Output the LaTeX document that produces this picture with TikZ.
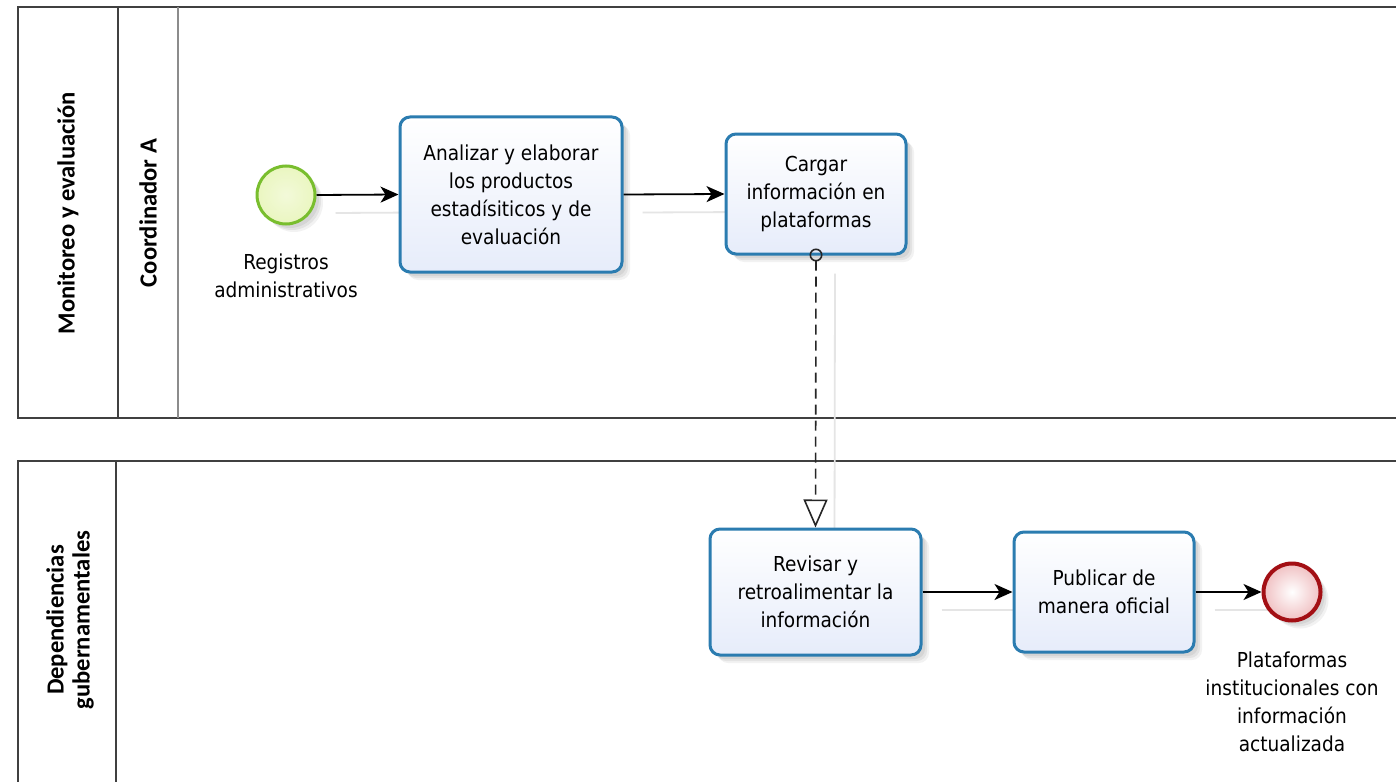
\documentclass[tikz,border=0pt]{standalone}
\usepackage{fontspec}
\setmainfont{DejaVu Sans Condensed}
\newfontfamily\lanefont{Carlito}
\usetikzlibrary{arrows.meta,shadows,positioning}

\definecolor{taskblue}{HTML}{2B7CB0}
\definecolor{taskfill}{HTML}{E6ECFA}
\definecolor{startgreen}{HTML}{79BE2E}
\definecolor{startfill}{HTML}{EAF6C0}
\definecolor{endred}{HTML}{A30F14}
\definecolor{endfill}{HTML}{F0C0C2}
\definecolor{poolline}{HTML}{404040}

\pgfdeclarelayer{background}
\pgfsetlayers{background,main}

\begin{document}
\begin{tikzpicture}[x=0.5pt,y=-0.5pt,
  pool/.style={draw=poolline, line width=1pt},
  divider/.style={draw=black!45, line width=1pt},
  lanetitle/.style={rotate=90, font=\lanefont\bfseries\fontsize{12.3}{13}\selectfont, align=center, inner sep=0pt},
  softshadow/.style={
    general shadow={shadow xshift=2pt, shadow yshift=-2pt, fill=black, opacity=0.06},
    general shadow={shadow xshift=3pt, shadow yshift=-3pt, fill=black, opacity=0.06},
    general shadow={shadow xshift=4pt, shadow yshift=-4pt, fill=black, opacity=0.05}},
  task/.style={draw=taskblue, line width=1.5pt, rounded corners=5pt,
    top color=white, bottom color=taskfill, align=center, inner sep=0pt,
    font=\fontsize{10.3}{14}\selectfont, softshadow},
  startev/.style={circle, draw=startgreen, line width=1.5pt, minimum size=29pt, inner sep=0pt,
    shading=radial, inner color=startfill!60, outer color=startfill, softshadow},
  endev/.style={circle, draw=endred, line width=2pt, minimum size=28.5pt, inner sep=0pt,
    shading=radial, inner color=white, outer color=endfill, softshadow},
  evlabel/.style={align=center, font=\fontsize{10.3}{14}\selectfont, inner sep=0pt},
  flow/.style={draw=black, line width=0.9pt, -{Stealth[length=9pt,width=8pt,inset=2.5pt]}},
  message/.style={draw=black!85, line width=0.8pt, dash pattern=on 5pt off 3pt,
    {Circle[open,length=6.5pt,width=6.5pt,line width=0.8pt]}-{Triangle[open,length=14pt,width=12pt,line width=0.8pt]}},
  flowshadow/.style={draw=black!10, line width=0.9pt}
]
\useasboundingbox (0,0) rectangle (1396,781);

% ---- pools and lanes ----
\begin{pgfonlayer}{background}
  \fill[white] (0,0) rectangle (1396,781);
  \draw[pool] (1420,7) -- (18,7) -- (18,418) -- (1420,418);
  \draw[pool] (118,7) -- (118,418);
  \draw[divider] (178,7) -- (178,418);
  \draw[pool] (1420,461) -- (18,461) -- (18,800);
  \draw[pool] (116,461) -- (116,800);
\end{pgfonlayer}

\node[lanetitle] (poolA) at (68,213) {Monitoreo y evaluación};
\node[lanetitle] (laneA) at (148,213) {Coordinador A};
\node[lanetitle] (poolB) at (70,620) {Dependiencias\\gubernamentales};

% ---- events and tasks ----
\node[startev] (start) at (286,195) {};
\node[evlabel, below=14pt of start] (startlbl) {Registros\\administrativos};

\node[task, minimum width=111pt, minimum height=77.5pt] (analizar) at (511,194.5)
  {Analizar y elaborar\\los productos\\estadísiticos y de\\evaluación};
\node[task, minimum width=90pt, minimum height=60pt] (cargar) at (816,194)
  {Cargar\\información en\\plataformas};
\node[task, minimum width=105.5pt, minimum height=63pt] (revisar) at (815.5,592)
  {Revisar y\\retroalimentar la\\información};
\node[task, minimum width=90pt, minimum height=60pt] (publicar) at (1104,592)
  {Publicar de\\manera oficial};

\node[endev] (end) at (1292,592) {};
\node[evlabel, below=14.5pt of end] (endlbl)
  {Plataformas\\institucionales con\\información\\actualizada};

% ---- faint connector shadows ----
\begin{pgfonlayer}{background}
  \begin{scope}[flowshadow, transform canvas={xshift=9.5pt, yshift=-9pt}]
    \draw (start.east) -- (analizar.west);
    \draw (analizar.east) -- (cargar.west);
    \draw (cargar.south) -- (revisar.north);
    \draw (revisar.east) -- (publicar.west);
    \draw (publicar.east) -- (end.west);
  \end{scope}
\end{pgfonlayer}

% ---- sequence and message flows ----
\draw[flow] (start.east) -- (analizar.west);
\draw[flow] (analizar.east) -- (cargar.west);
\draw[flow] (revisar.east) -- (publicar.west);
\draw[flow] (publicar.east) -- (end.west);
\draw[message, shorten <=-3.5pt] (cargar.south) -- (revisar.north);
\end{tikzpicture}
\end{document}
